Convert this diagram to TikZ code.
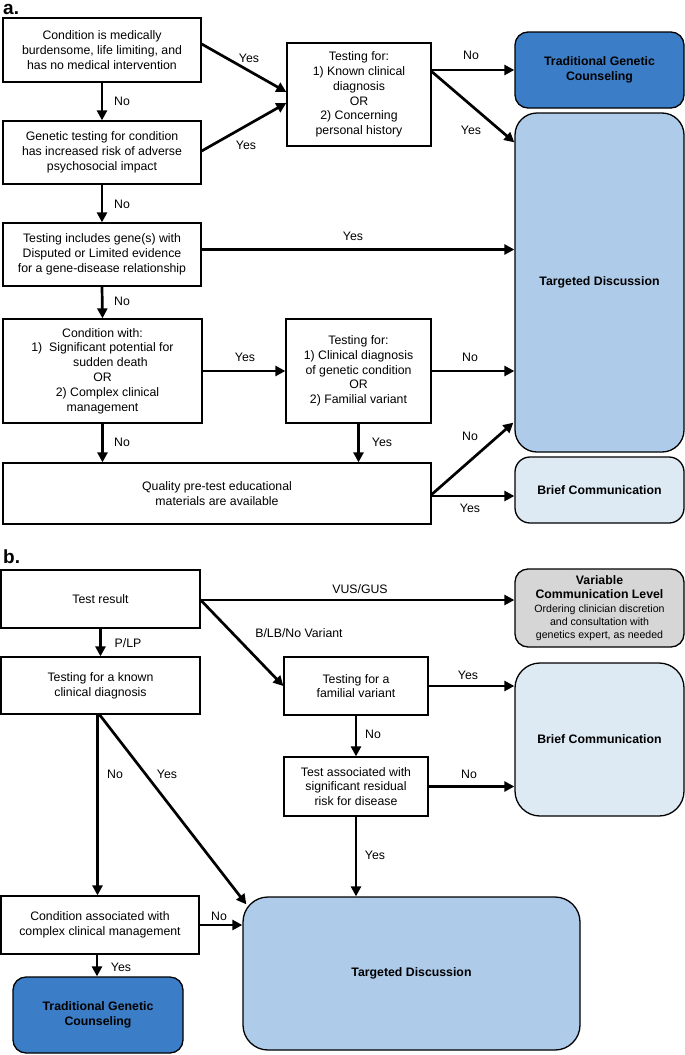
\documentclass[tikz,border=0pt]{standalone}
\usepackage{fontspec}
\setmainfont{Liberation Sans}
\usetikzlibrary{arrows.meta,calc}
\definecolor{tgcblue}{HTML}{3B7DC6}
\definecolor{tdblue}{HTML}{AECBEA}
\definecolor{bcblue}{HTML}{DDEAF4}
\definecolor{vclgrey}{HTML}{D6D6D6}
\newcommand{\fsn}{\fontsize{12.3}{14.8}\selectfont}
\newcommand{\fss}{\fontsize{10.6}{13}\selectfont}
\begin{document}
\begin{tikzpicture}[x=1pt,y=-1pt,
  box/.style={draw=black, line width=1.3pt, fill=white, align=center, inner sep=0pt, font=\fsn},
  outbox/.style={box, rounded corners=#1, font=\fsn\bfseries},
  arr/.style={line width=2.7pt, -{Triangle[length=10pt,width=10pt]}},
  lbl/.style={font=\fsn, inner sep=0pt},
  panel/.style={font=\fontsize{19}{22}\selectfont\bfseries, inner sep=0pt, anchor=base west},
]
\useasboundingbox (0,0) rectangle (685,1055);

% ---------------- panel a ----------------
\node[panel] (pa) at (3,14) {a.};
\node[box, minimum width=198pt, minimum height=64pt] (a1) at (102,50)
  {Condition is medically\\burdensome, life limiting, and\\has no medical intervention};
\node[box, minimum width=198pt, minimum height=63pt] (a2) at (102,152.5)
  {Genetic testing for condition\\has increased risk of adverse\\psychosocial impact};
\node[box, minimum width=198pt, minimum height=63pt] (a3) at (102,254.5)
  {Testing includes gene(s) with\\Disputed or Limited evidence\\for a gene-disease relationship};
\node[box, minimum width=144pt, minimum height=103pt] (b1) at (359,94.5)
  {Testing for:\\1) Known clinical\\diagnosis\\OR\\2) Concerning\\personal history};
\node[outbox=13pt, fill=tgcblue, minimum width=169pt, minimum height=76pt] (tgc1) at (599.5,70)
  {Traditional Genetic\\Counseling};
\node[outbox=22pt, fill=tdblue, minimum width=169pt, minimum height=339pt] (td1) at (599.5,282.5)
  {Targeted Discussion};
\node[box, minimum width=199pt, minimum height=104pt] (a4) at (102.5,371)
  {Condition with:\\1)\ \ Significant potential for\\\hspace*{16pt}sudden death\\OR\\\hspace*{10pt}2) Complex clinical\\management};
\node[box, minimum width=145pt, minimum height=104pt] (b2) at (358.5,371)
  {Testing for:\\1) Clinical diagnosis\\of genetic condition\\OR\\2) Familial variant};
\node[box, minimum width=428pt, minimum height=61pt] (a5) at (217,493.5)
  {Quality pre-test educational\\materials are available};
\node[outbox=15pt, fill=bcblue, minimum width=169pt, minimum height=66pt] (bc1) at (599.5,490)
  {Brief Communication};

\draw[arr] ([yshift=6pt]a1.east) -- ([yshift=2.5pt]b1.west);
\draw[arr] ([yshift=1.5pt]a2.east) -- ([yshift=-8.5pt]b1.west);
\draw[arr] (a1.south) -- (a2.north);
\draw[arr] (a2.south) -- (a3.north);
\draw[arr] (a3.south) -- (a4.north);
\draw[arr] (b1.east |- tgc1.west) -- (tgc1.west);
\draw[arr] ([yshift=23pt]b1.east) -- ([yshift=-30pt]td1.north west);
\draw[arr] ([yshift=5pt]a3.east) -- ([yshift=5pt]a3.east -| td1.west);
\draw[arr] (a4.east) -- (a4.east -| b2.west);
\draw[arr] (b2.east) -- (b2.east -| td1.west);
\draw[arr] (a4.south) -- (a4.south |- a5.north);
\draw[arr] (b2.south) -- (b2.south |- a5.north);
\draw[arr] ([yshift=-1pt]a5.east) -- ([xshift=-1pt,yshift=30pt]td1.south west);
\draw[arr] ([yshift=-2.5pt]a5.east) -- ([yshift=-2.5pt]a5.east -| bc1.west);

\node[lbl] (l1) at (249,58) {Yes};
\node[lbl] (l2) at (246,145) {Yes};
\node[lbl] (l3) at (122,101) {No};
\node[lbl] (l4) at (122,204) {No};
\node[lbl] (l5) at (353,236) {Yes};
\node[lbl] (l6) at (471,55) {No};
\node[lbl] (l7) at (471,130) {Yes};
\node[lbl] (l8) at (122,301) {No};
\node[lbl] (l9) at (245,357) {Yes};
\node[lbl] (l10) at (470,357) {No};
\node[lbl] (l11) at (122,442) {No};
\node[lbl] (l12) at (382,442) {Yes};
\node[lbl] (l13) at (470,436) {No};
\node[lbl] (l14) at (470,508) {Yes};

% ---------------- panel b ----------------
\node[panel] (pb) at (3,563) {b.};
\node[box, minimum width=199pt, minimum height=58pt] (tr) at (100.5,599) {Test result};
\node[box, minimum width=199pt, minimum height=57pt] (tk) at (100.5,685.5)
  {Testing for a known\\clinical diagnosis};
\node[box, minimum width=144pt, minimum height=58pt] (tf) at (356,686)
  {Testing for a\\familial variant};
\node[box, minimum width=144pt, minimum height=59pt] (ta) at (356,786.5)
  {Test associated with\\significant residual\\risk for disease};
\node[box, rounded corners=13pt, fill=vclgrey, minimum width=169pt, minimum height=78pt] (vcl) at (599.5,608)
  {\bfseries Variable\\\bfseries Communication Level\\[-1.5pt]{\fss Ordering clinician discretion}\\[-1.5pt]{\fss and consultation with}\\[-1.5pt]{\fss genetics expert, as needed}};
\node[outbox=25pt, fill=bcblue, minimum width=169pt, minimum height=153pt] (bc2) at (599.5,739.5)
  {Brief Communication};
\node[box, minimum width=198pt, minimum height=58pt] (cc) at (100,925)
  {Condition associated with\\complex clinical management};
\node[outbox=13pt, fill=tgcblue, minimum width=170pt, minimum height=76pt] (tgc2) at (98,1015)
  {Traditional Genetic\\Counseling};
\node[outbox=25pt, fill=tdblue, minimum width=337pt, minimum height=153pt] (td2) at (411.5,973.5)
  {Targeted Discussion};

\draw[arr] ([yshift=-1pt]tr.east) -- ([yshift=-1pt]tr.east -| vcl.west);
\draw[arr] ([yshift=-1pt]tr.east) -- (tf.west);
\draw[arr] (tr.south) -- (tk.north);
\draw[arr] ([xshift=-3pt]tk.south) -- ([xshift=-3pt]tk.south |- cc.north);
\draw[arr] ([xshift=-1pt]tk.south) -- ([xshift=4pt,yshift=-8pt]td2.north west);
\draw[arr] (cc.east) -- (cc.east -| td2.west);
\draw[arr] ([xshift=-3pt]cc.south) -- ([xshift=-3pt]cc.south |- tgc2.north);
\draw[arr] (tf.east) -- (tf.east -| bc2.west);
\draw[arr] (tf.south) -- (ta.north);
\draw[arr] (ta.east) -- (ta.east -| bc2.west);
\draw[arr] (ta.south) -- (ta.south |- td2.north);

\node[lbl] (m1) at (360,589) {VUS/GUS};
\node[lbl] (m2) at (299,633) {B/LB/No Variant};
\node[lbl] (m3) at (128,643) {P/LP};
\node[lbl] (m4) at (468,675) {Yes};
\node[lbl] (m5) at (373,734) {No};
\node[lbl] (m6) at (469,774) {No};
\node[lbl] (m7) at (115,774) {No};
\node[lbl] (m8) at (167,774) {Yes};
\node[lbl] (m9) at (375,855) {Yes};
\node[lbl] (m10) at (219,916) {No};
\node[lbl] (m11) at (121,967) {Yes};
\end{tikzpicture}
\end{document}
